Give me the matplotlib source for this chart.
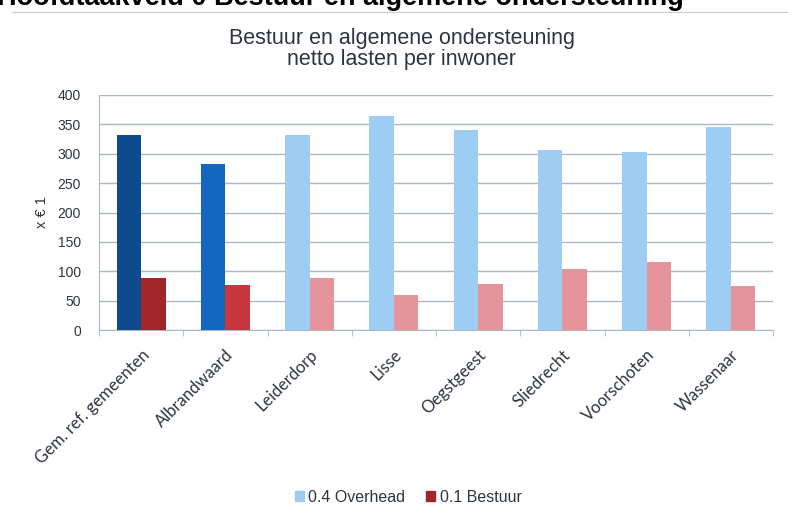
import numpy as np
import matplotlib
matplotlib.use("Agg")
import matplotlib.pyplot as plt
from matplotlib.lines import Line2D
from matplotlib.patches import Patch

plt.rcParams['font.family'] = ['Liberation Sans', 'DejaVu Sans']

# data (x EUR 1 per inwoner)
categories = ['Gem. ref. gemeenten', 'Albrandwaard', 'Leiderdorp', 'Lisse',
              'Oegstgeest', 'Sliedrecht', 'Voorschoten', 'Wassenaar']
overhead = [332, 282, 332, 364, 340, 307, 303, 345]
bestuur = [88, 76, 88, 59, 78, 103, 115, 75]
yticks = [0, 50, 100, 150, 200, 250, 300, 350, 400]

# colours: reference average, own municipality, peers
oh_colors = ['#0d4a8e', '#1466c0'] + ['#9dcdf3'] * 6
be_colors = ['#a2252b', '#c9363d'] + ['#e4949a'] * 6
text_col = '#2e3440'
grid_col = '#a9b7c9'

fig = plt.figure(figsize=(7.88, 5.20), dpi=100)
ax = fig.add_axes([99 / 788, 1 - 330 / 520, 674 / 788, 235 / 520])

x = np.arange(len(categories))
w = 0.29
ax.bar(x - w / 2, overhead, w, color=oh_colors, zorder=3)
ax.bar(x + w / 2, bestuur, w, color=be_colors, zorder=3)

ax.set_xlim(-0.5, len(categories) - 0.5)
ax.set_ylim(0, 400)
ax.set_yticks(yticks)
ax.tick_params(axis='y', length=0, labelsize=10, labelcolor=text_col, pad=13)
ax.yaxis.grid(True, color=grid_col, lw=1)
ax.set_axisbelow(True)

ax.set_xticks(x)
ax.set_xticklabels(categories, rotation=45, ha='right', rotation_mode='anchor',
                   fontsize=12, color=text_col, family=['Lato', 'DejaVu Sans'])
ax.tick_params(axis='x', length=0, pad=12)
ax.set_xticks(np.arange(-0.5, len(categories) + 0.5, 1), minor=True)
ax.tick_params(axis='x', which='minor', length=4, color=grid_col)

for s in ['top', 'right']:
    ax.spines[s].set_visible(False)
for s in ['left', 'bottom']:
    ax.spines[s].set_color(grid_col)

ax.set_ylabel('x € 1', fontsize=10.5, color=text_col, labelpad=6)

fig.text(0.51, 1 - 49 / 520, 'Bestuur en algemene ondersteuning\nnetto lasten per inwoner',
         ha='center', va='center', fontsize=15.5, color=text_col, linespacing=1.05)

# cut-off heading at the top of the scan
fig.text(-0.004, 1 - 5 / 520, 'Hoofdtaakveld 0 Bestuur en algemene ondersteuning',
         ha='left', va='baseline', fontsize=19.5, fontweight='bold', color='black')
fig.add_artist(Line2D([12 / 788, 1], [1 - 12 / 520] * 2, color='#cccccc', lw=0.8))

handles = [Patch(color='#9dcdf3', label='0.4 Overhead'),
           Patch(color='#a2252b', label='0.1 Bestuur')]
fig.legend(handles=handles, loc='center', bbox_to_anchor=(0.518, 1 - 497 / 520), ncol=2,
           frameon=False, fontsize=11.5, handlelength=0.55, handleheight=0.55,
           handletextpad=0.3, columnspacing=1.3, labelcolor=text_col)

fig.savefig('out.png', dpi=100)
